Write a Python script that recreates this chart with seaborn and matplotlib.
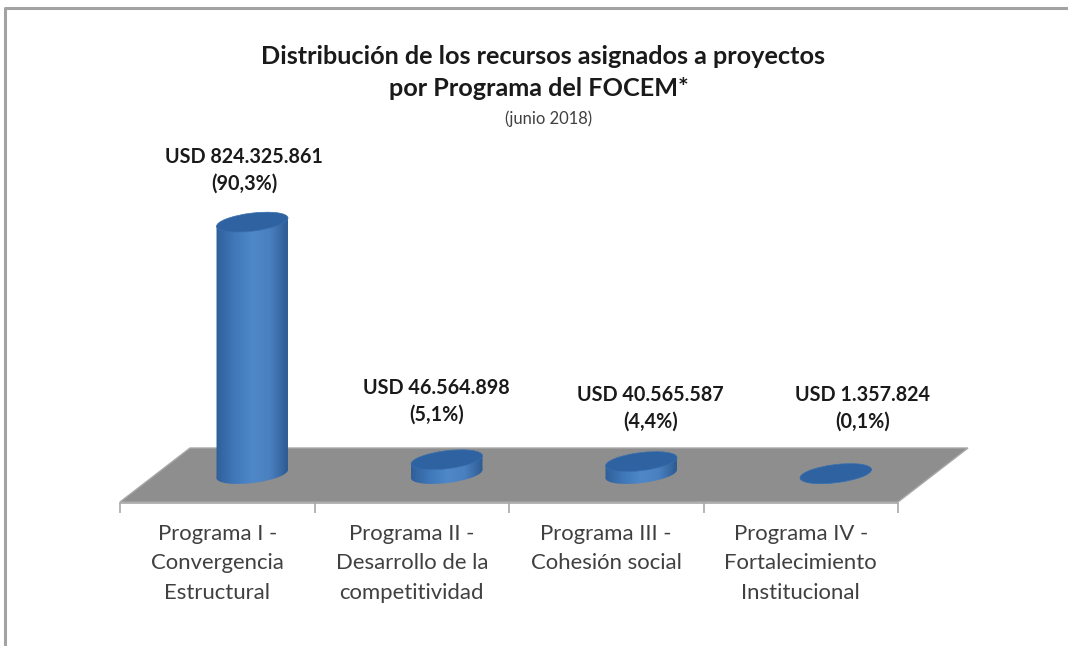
import matplotlib
matplotlib.use('Agg')
import matplotlib.pyplot as plt
from matplotlib.colors import LinearSegmentedColormap
from matplotlib.patches import Ellipse, Polygon
from matplotlib.transforms import IdentityTransform
import numpy as np
import pandas as pd
import seaborn as sns

#-------------------
# DATA
#-------------------

programs = ['Programa I -\nConvergencia\nEstructural',
            'Programa II -\nDesarrollo de la\ncompetitividad',
            'Programa III -\nCohesión social',
            'Programa IV -\nFortalecimiento\nInstitucional']
amounts = [824325861, 46564898, 40565587, 1357824]
shares = ['90,3%', '5,1%', '4,4%', '0,1%']

#-------------------
# LAYOUT (reference pixels)
#-------------------

W, H = 1068, 646
label_offsets = [(-8, 28), (-10, 35), (9, 30), (27, 42)]
ELLIPSE_H = 18
TILT = 7

sns.set_theme(style='white')
plt.rcParams['font.family'] = ['Lato', 'DejaVu Sans']

fig = plt.figure(figsize=(W/100, H/100), dpi=100, facecolor='white')

def px(x, y):
    return (x/W, 1-y/H)

def axes_rect(left, right, top, bottom):
    return [left/W, 1-bottom/H, (right-left)/W, (bottom-top)/H]

# outer frame, only top and left are inside the picture
fig.add_artist(plt.Line2D([1, 5.5/W, 5.5/W], [1-8/H, 1-8/H, 0], color='#a3a3a3', lw=2.2))

# floor of the 3d chart, behind the bars
fig.add_artist(Polygon([px(120, 502), px(190, 448), px(968, 448), px(898, 502)],
                       closed=True, facecolor='#8e8e8e', edgecolor='#a8a8a8', lw=1, zorder=0))

# bars stand in the middle of the floor depth
ax = fig.add_axes(axes_rect(155, 933, 199, 474), facecolor='none', zorder=2)
df = pd.DataFrame({'program': programs, 'amount': amounts})
sns.barplot(data=df, x='program', y='amount', ax=ax, color='#3f77b8', width=0.37, saturation=1)
ax.set_xlim(-0.5, 3.5)
ax.set_ylim(0, 900e6)
ax.axis('off')

cyl = LinearSegmentedColormap.from_list('cyl', ['#2f5f99', '#3f77b8', '#4f88c8', '#4a80c0', '#2d5b92'])
gradient = np.linspace(0, 1, 256).reshape(1, -1)

fig.canvas.draw()
for bar in list(ax.patches):
    x0, x1 = bar.get_x(), bar.get_x()+bar.get_width()
    val = bar.get_height()
    bx, by = ax.transData.transform((bar.get_x()+bar.get_width()/2, 0))
    tx, ty = ax.transData.transform((bar.get_x()+bar.get_width()/2, val))
    bar_w = abs(ax.transData.transform((x1, 0))[0]-ax.transData.transform((x0, 0))[0])
    bar.set_visible(False)

    # side tangents of a tilted ellipse, so the body meets both faces cleanly
    a, b, th = bar_w/2, ELLIPSE_H/2, np.radians(TILT)
    ex = np.sqrt((a*np.cos(th))**2+(b*np.sin(th))**2)
    dy = (a**2-b**2)*np.sin(th)*np.cos(th)/ex

    body = Polygon([(bx-ex, ty-dy), (bx+ex, ty+dy), (bx+ex, by+dy), (bx-ex, by-dy)],
                   closed=True, transform=IdentityTransform())
    base = Ellipse((bx, by), bar_w, ELLIPSE_H, angle=TILT, transform=IdentityTransform())
    for shape in [body, base]:
        im = ax.imshow(gradient, cmap=cyl, aspect='auto', extent=(x0, x1, -50e6, val+50e6), zorder=3)
        im.set_clip_box(fig.bbox)
        im.set_clip_path(shape)

    # top face
    top = Ellipse((tx, ty), bar_w, ELLIPSE_H, angle=TILT, transform=IdentityTransform(),
                  facecolor='#2f62a0', edgecolor='#3a70b0', lw=0.5, zorder=4)
    ax.add_artist(top)
    top.set_clip_on(False)
ax.set_xlim(-0.5, 3.5)
ax.set_ylim(0, 900e6)

for i, amount in enumerate(amounts):
    usd = f'{amount:,}'.replace(',', '.')
    ax.annotate(f'USD {usd}\n({shares[i]})', xy=(i, amount), xytext=label_offsets[i],
                textcoords='offset pixels', ha='center', va='bottom', fontsize=14.2,
                fontweight='bold', color='#1a1a1a', linespacing=1.42, annotation_clip=False, zorder=5)

# front edge of the floor carries the category axis
front = fig.add_axes(axes_rect(120, 898, 440, 503), facecolor='none', zorder=1)
front.set_xlim(-0.5, 3.5)
front.set_ylim(0, 1)
front.set_yticks([])
for side in ['top', 'left', 'right']:
    front.spines[side].set_visible(False)
front.spines['bottom'].set_color('#a8a8a8')
front.spines['bottom'].set_linewidth(1.2)
front.set_xticks(range(4))
front.set_xticklabels(programs, fontsize=15.9, color='#404040', linespacing=1.6, va='top')
front.set_xticks(np.arange(-0.5, 4), minor=True)
front.tick_params(axis='x', which='major', length=0, pad=15)
front.tick_params(axis='x', which='minor', length=7, width=1.2, color='#a8a8a8', bottom=True)

# titles
fig.text(*px(543, 57), 'Distribución de los recursos asignados a proyectos', ha='center', va='center',
         fontsize=18.2, fontweight='bold', color='#1a1a1a')
fig.text(*px(539, 88), 'por Programa del FOCEM*', ha='center', va='center',
         fontsize=18.2, fontweight='bold', color='#1a1a1a')
fig.text(*px(549, 119), '(junio 2018)', ha='center', va='center', fontsize=11.9, color='#404040')

plt.savefig('out.png', dpi=100)
